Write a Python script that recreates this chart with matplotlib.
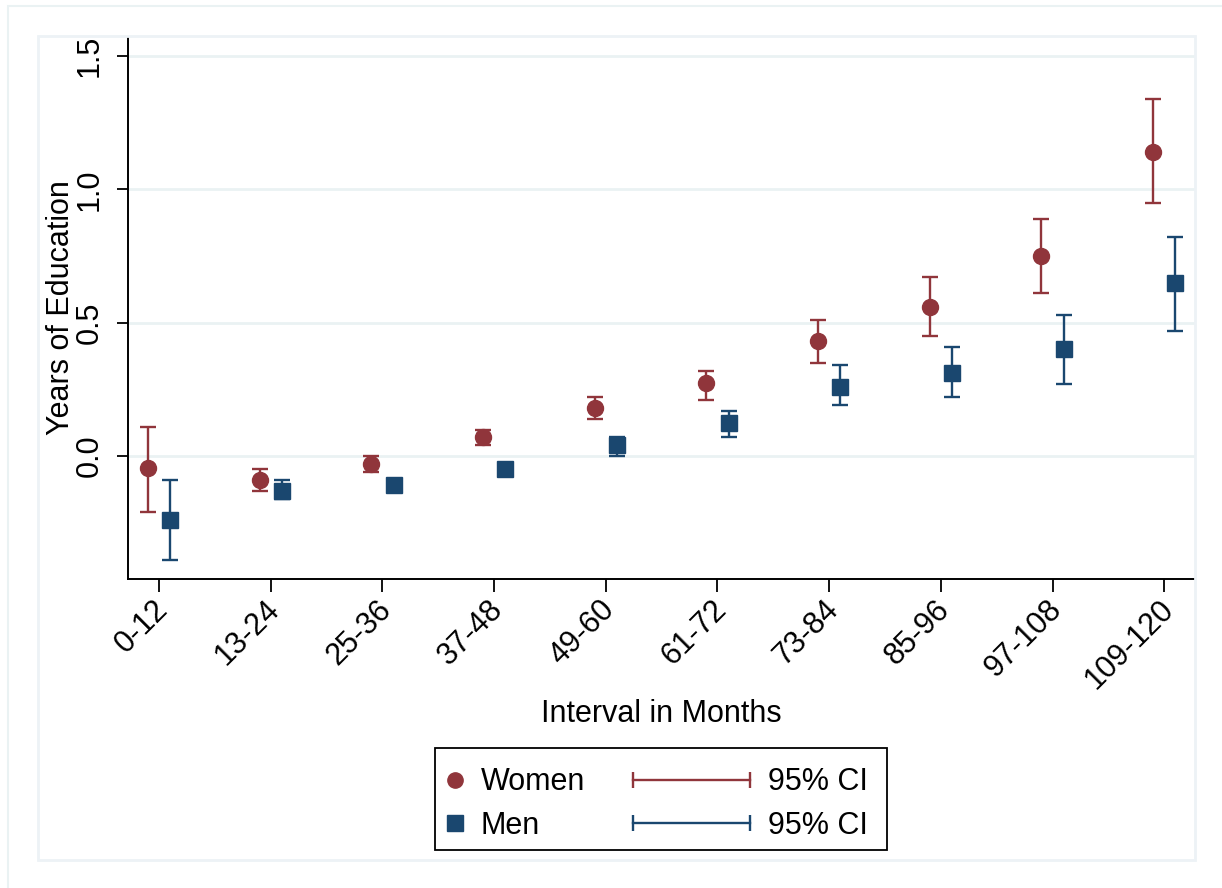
import numpy as np
import matplotlib
matplotlib.use('Agg')
import matplotlib.pyplot as plt
from matplotlib.lines import Line2D
from matplotlib.patches import Rectangle
from matplotlib.legend_handler import HandlerLine2D
from matplotlib.transforms import ScaledTranslation

plt.rcParams['font.family'] = ['Liberation Sans', 'DejaVu Sans']

intervals = ["0-12", "13-24", "25-36", "37-48", "49-60",
             "61-72", "73-84", "85-96", "97-108", "109-120"]

women = [-0.045, -0.09, -0.03, 0.071, 0.18, 0.274, 0.43, 0.56, 0.75, 1.14]
women_lo = [-0.21, -0.13, -0.059, 0.041, 0.14, 0.21, 0.35, 0.45, 0.61, 0.95]
women_hi = [0.11, -0.049, 0.0, 0.097, 0.22, 0.32, 0.51, 0.67, 0.89, 1.34]

men = [-0.24, -0.13, -0.11, -0.05, 0.042, 0.122, 0.26, 0.31, 0.40, 0.65]
men_lo = [-0.39, -0.16, -0.13, -0.07, 0.0, 0.07, 0.19, 0.22, 0.27, 0.47]
men_hi = [-0.09, -0.09, -0.09, -0.03, 0.07, 0.17, 0.34, 0.41, 0.53, 0.82]

MAROON = '#90353b'
NAVY = '#1a476f'
GRID = '#eaf2f3'
FS = 22

W, H = 1222, 888
fig = plt.figure(figsize=(W / 100, H / 100), dpi=100)

# stata-ish background boxes
fig.patches.append(Rectangle((8 / W, -0.1), 1.2, 1 - 6 / H + 0.1, transform=fig.transFigure,
                             fill=False, edgecolor=GRID, lw=1.5, zorder=0))
fig.patches.append(Rectangle((38 / W, 1 - 860 / H), (1195 - 38) / W, (860 - 36) / H,
                             transform=fig.transFigure, fill=False, edgecolor='#edf2f6',
                             lw=2, zorder=0))

ax = fig.add_axes([128 / W, 1 - 579 / H, (1195 - 128) / W, (579 - 37) / H])
ax.patch.set_alpha(0)

x = np.arange(len(intervals))
off = 0.1
w = np.array(women)
m = np.array(men)
ax.errorbar(x - off, w, yerr=[w - np.array(women_lo), np.array(women_hi) - w],
            fmt='o', color=MAROON, ms=11.5, elinewidth=1.7, capsize=5.6, capthick=1.7, zorder=3)
ax.errorbar(x + off, m, yerr=[m - np.array(men_lo), np.array(men_hi) - m],
            fmt='s', color=NAVY, ms=11.5, elinewidth=1.7, capsize=5.6, capthick=1.7, zorder=3)

ax.set_xlim(-0.2775, 9.275)
ax.set_ylim(-0.461, 1.571)
ax.set_yticks([0.0, 0.5, 1.0, 1.5])
ax.set_yticklabels(['0.0', '0.5', '1.0', '1.5'], rotation=90, va='center')
ax.set_xticks(x)
ax.set_xticklabels(intervals, rotation=45, ha='right', rotation_mode='anchor')
ax.tick_params(axis='both', labelsize=FS, width=1.3, color='black')
ax.tick_params(axis='x', length=9, pad=2)
ax.tick_params(axis='y', length=8, pad=9)
shift = ScaledTranslation(-6 / 100, 0, fig.dpi_scale_trans)
for lbl in ax.get_xticklabels():
    lbl.set_transform(lbl.get_transform() + shift)
ax.grid(axis='y', color=GRID, lw=2, zorder=0)
ax.set_axisbelow(True)
for s in ['top', 'right']:
    ax.spines[s].set_visible(False)
for s in ['left', 'bottom']:
    ax.spines[s].set_linewidth(1.4)

ax.set_xlabel('Interval in Months', fontsize=FS, va='top')
ax.xaxis.set_label_coords(0.5, -0.222)
ax.set_ylabel('Years of Education', fontsize=FS)
ax.yaxis.set_label_coords(-0.049, 0.5)

# legend: marker column and CI column
h_w = Line2D([], [], marker='o', color=MAROON, ls='none', ms=11)
h_m = Line2D([], [], marker='s', color=NAVY, ls='none', ms=11)
ci_w = Line2D([], [], marker='|', color=MAROON, lw=1.7, ms=11, mew=1.7)
ci_m = Line2D([], [], marker='|', color=NAVY, lw=1.7, ms=11, mew=1.7)

leg1 = fig.legend([h_w, h_m], ['Women', 'Men'], loc='upper left',
                  bbox_to_anchor=(424 / W, 1 - 746 / H), frameon=False, fontsize=FS,
                  handlelength=0.6, handletextpad=0.55, labelspacing=0.45, borderpad=0.2)
leg2 = fig.legend([ci_w, ci_m], ['95% CI', '95% CI'], loc='upper left',
                  bbox_to_anchor=(612 / W, 1 - 746 / H), frameon=False, fontsize=FS,
                  handlelength=3.8, handletextpad=0.59, labelspacing=0.45, borderpad=0.2,
                  handler_map={ci_w: HandlerLine2D(numpoints=2, marker_pad=0),
                               ci_m: HandlerLine2D(numpoints=2, marker_pad=0)})
fig.patches.append(Rectangle((435 / W, 1 - 850 / H), (887 - 435) / W, (850 - 748) / H,
                             transform=fig.transFigure, fill=False, edgecolor='black', lw=1.3))

fig.savefig('out.png', dpi=100)
